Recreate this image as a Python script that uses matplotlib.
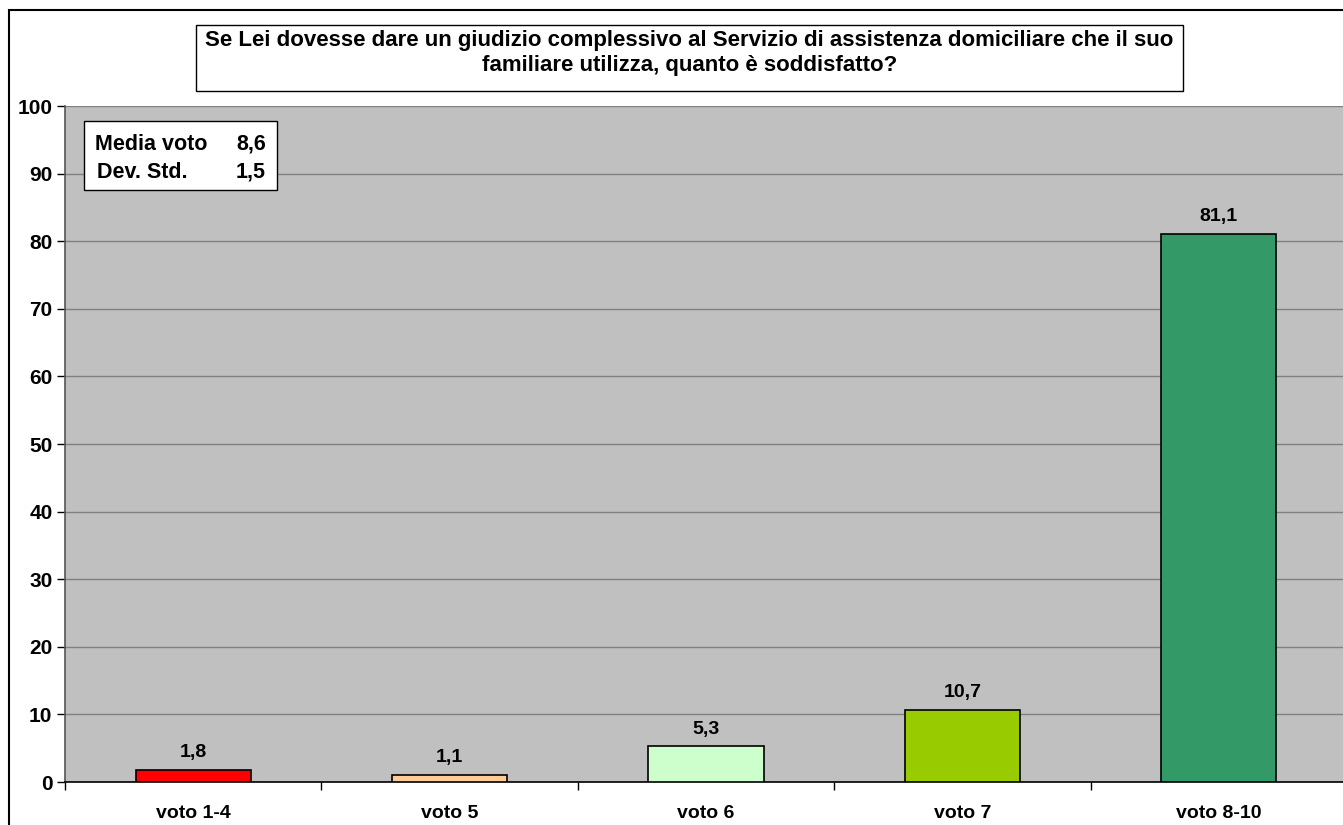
import matplotlib.pyplot as plt
from matplotlib.patches import Rectangle

# dati del grafico
categorie = ['voto 1-4', 'voto 5', 'voto 6', 'voto 7', 'voto 8-10']
percentuali = [1.8, 1.1, 5.3, 10.7, 81.1]
colori = ['#FF0000', '#FFCC99', '#CCFFCC', '#99CC00', '#339966']
media_voto = '8,6'
dev_std = '1,5'
titolo = ('Se Lei dovesse dare un giudizio complessivo al Servizio di assistenza domiciliare che il suo\n'
          'familiare utilizza, quanto è soddisfatto?')

plt.rcParams['font.family'] = ['Liberation Sans', 'DejaVu Sans']
plt.rcParams['font.weight'] = 'bold'

W, H = 1343, 825
fig = plt.figure(figsize=(W / 100, H / 100), dpi=100)
fig.patch.set_facecolor('white')

# cornice esterna del grafico
fig.patches.append(Rectangle((9 / W, -0.1), 1.1, (H - 10) / H + 0.1, transform=fig.transFigure,
                             fill=False, edgecolor='black', linewidth=1.5))

ax = fig.add_axes([65 / W, 1 - 782 / H, 1282 / W, 676 / H])
ax.set_facecolor('#C0C0C0')

x = list(range(len(categorie)))
ax.bar(x, percentuali, width=0.45, color=colori, edgecolor='black', linewidth=1.2, zorder=3)

for xi, v in zip(x, percentuali):
    ax.annotate(f'{v:.1f}'.replace('.', ','), (xi, v), xytext=(0, 6), textcoords='offset points',
                ha='center', va='bottom', fontsize=14, fontweight='bold')

ax.set_xlim(-0.5, len(categorie) - 0.5)
ax.set_ylim(0, 100)
ax.set_yticks(range(0, 101, 10))
ax.yaxis.grid(True, color='#808080', linewidth=1, zorder=0)
ax.set_axisbelow(True)

ax.set_xticks(x)
ax.set_xticklabels(categorie, fontsize=14, fontweight='bold')
ax.set_xticks([i - 0.5 for i in x], minor=True)
ax.tick_params(axis='x', which='major', length=0, pad=16.5)
ax.tick_params(axis='x', which='minor', length=6, width=1, color='black')
ax.tick_params(axis='y', length=6, width=1, color='black', labelsize=15, pad=3)
for lab in ax.get_yticklabels():
    lab.set_fontweight('bold')

ax.spines['top'].set_visible(False)
ax.spines['right'].set_visible(False)
ax.spines['left'].set_color('#555555')
ax.spines['bottom'].set_color('black')
ax.spines['left'].set_linewidth(1.2)
ax.spines['bottom'].set_linewidth(1.2)

# titolo in riquadro
fig.patches.append(Rectangle((196 / W, 1 - 91 / H), (1183 - 196) / W, 66 / H, transform=fig.transFigure,
                             facecolor='white', edgecolor='black', linewidth=1))
fig.text((196 + 1183) / 2 / W, 1 - 53 / H, titolo, ha='center', va='center', fontsize=16,
         fontweight='bold', linespacing=1.2)

# riquadro media e deviazione standard
fig.patches.append(Rectangle((84 / W, 1 - 190 / H), (277 - 84) / W, 69 / H, transform=fig.transFigure,
                             facecolor='white', edgecolor='black', linewidth=1, zorder=5))
fig.text(95 / W, 1 - 144 / H, 'Media voto', ha='left', va='center', fontsize=15.5, fontweight='bold', zorder=6)
fig.text(266 / W, 1 - 144 / H, media_voto, ha='right', va='center', fontsize=15.5, fontweight='bold', zorder=6)
fig.text(97 / W, 1 - 172 / H, 'Dev. Std.', ha='left', va='center', fontsize=15.5, fontweight='bold', zorder=6)
fig.text(266 / W, 1 - 172 / H, dev_std, ha='right', va='center', fontsize=15.5, fontweight='bold', zorder=6)

fig.savefig('out.png', dpi=100)
